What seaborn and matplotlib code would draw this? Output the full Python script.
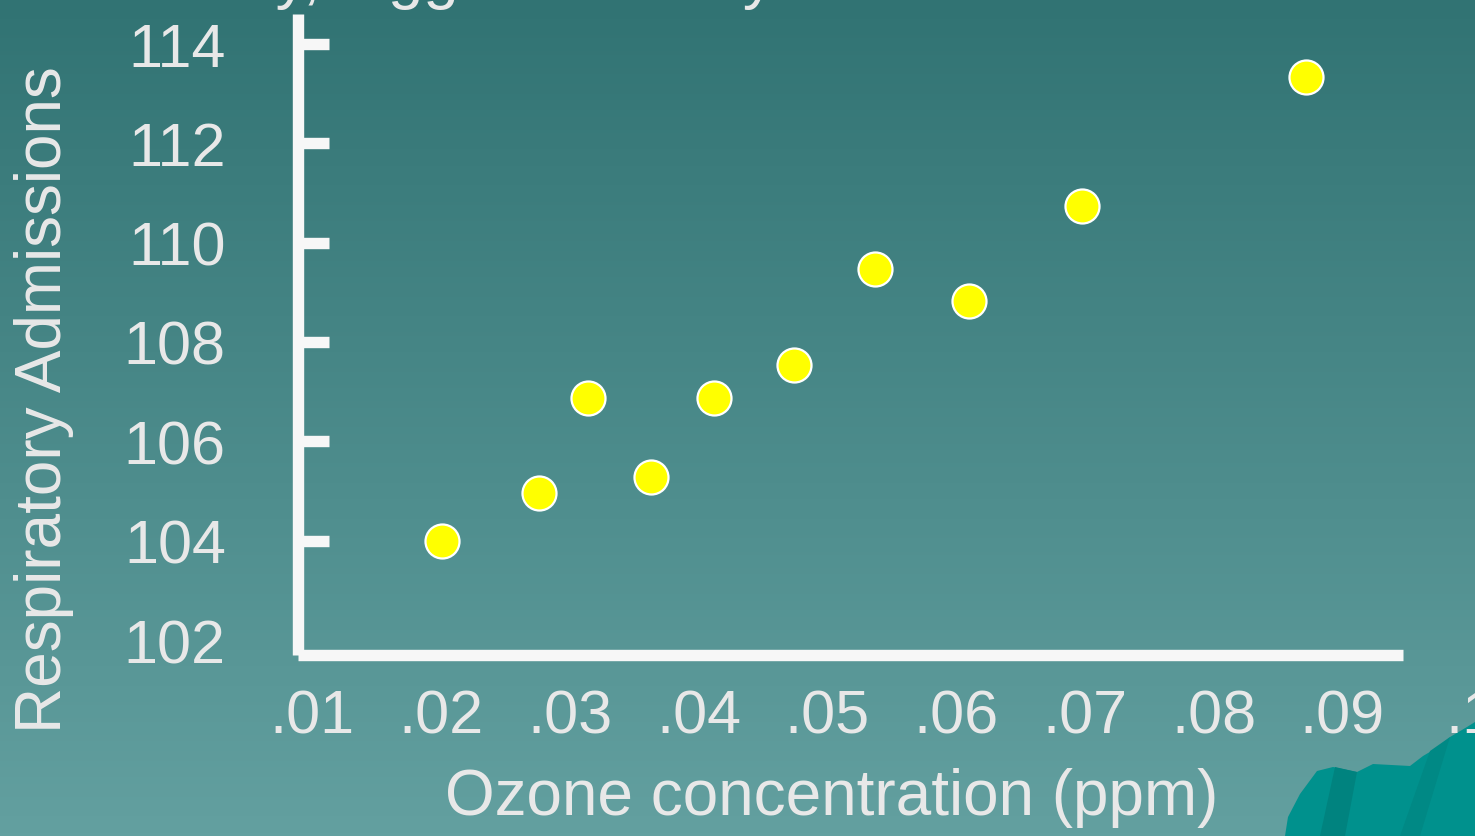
import numpy as np
import matplotlib.pyplot as plt
import seaborn as sns

# ozone (ppm) vs respiratory admissions
ozone = [0.0201, 0.0276, 0.0314, 0.0363, 0.0412, 0.0474, 0.0537, 0.0610, 0.0698, 0.0872]
admissions = [104.0, 104.97, 106.88, 105.29, 106.88, 107.54, 109.47, 108.83, 110.74, 113.34]

xticks = [0.01, 0.02, 0.03, 0.04, 0.05, 0.06, 0.07, 0.08, 0.09, 0.10]
xticklabels = ['.01', '.02', '.03', '.04', '.05', '.06', '.07', '.08', '.09', '.1']
yticks = [102, 104, 106, 108, 110, 112, 114]

sns.set_theme(style='ticks')
plt.rcParams['font.family'] = ['Liberation Sans', 'DejaVu Sans']

W, H = 1475, 837
fig = plt.figure(figsize=(W / 100, H / 100), dpi=100)

# slide background: vertical teal gradient
bg = fig.add_axes([0, 0, 1, 1], zorder=-10)
top = np.array([49, 115, 115]) / 255
bot = np.array([99, 160, 160]) / 255
t = np.linspace(0, 1, 256)[:, None]
grad = (top[None, :] * (1 - t) + bot[None, :] * t)[:, None, :]
bg.imshow(grad, aspect='auto', extent=[0, 1, 0, 1])
# teal decoration in the lower right corner
deco = np.array([(1285, 837), (1288, 818), (1300, 795), (1317, 772), (1333, 768), (1357, 773),
                 (1373, 765), (1410, 767), (1423, 757), (1440, 747), (1450, 738), (1467, 728),
                 (1475, 723), (1475, 837)], dtype=float)
bg.fill(deco[:, 0] / W, 1 - deco[:, 1] / H, color='#00918d', lw=0)
facet = np.array([(1320, 837), (1335, 768), (1357, 773), (1345, 837)], dtype=float)
bg.fill(facet[:, 0] / W, 1 - facet[:, 1] / H, color='#00837f', lw=0)
facet2 = np.array([(1400, 837), (1430, 752), (1450, 738), (1420, 837)], dtype=float)
bg.fill(facet2[:, 0] / W, 1 - facet2[:, 1] / H, color='#008985', lw=0)
bg.set_xlim(0, 1)
bg.set_ylim(0, 1)
bg.axis('off')

ax = fig.add_axes([298 / W, 1 - 656 / H, (1471 - 298) / W, (656 - 15) / H])
ax.set_facecolor('none')

sns.scatterplot(x=ozone, y=admissions, ax=ax, s=600, color='#ffff00',
                edgecolor='white', linewidth=1.6, zorder=3)

ax.set_xlim(0.0089, 0.10)
ax.set_ylim(101.7, 114.6)

line_c = '#f7f7f7'
text_c = '#e8e8e8'
for side in ['top', 'right']:
    ax.spines[side].set_visible(False)
for side in ['left', 'bottom']:
    ax.spines[side].set_color(line_c)
    ax.spines[side].set_linewidth(8.2)
    ax.spines[side].set_capstyle('butt')
ax.spines['bottom'].set_bounds(0.0089, 0.0947)

ax.set_xticks(xticks)
ax.set_xticklabels(xticklabels)
ax.set_yticks(yticks)
ax.tick_params(axis='x', length=0, pad=24, labelsize=44, labelcolor=text_c)
ax.tick_params(axis='y', direction='in', length=22, width=8.2, color=line_c,
               pad=52, labelsize=44, labelcolor=text_c)
ax.yaxis.get_major_ticks()[0].tick1line.set_visible(False)

ax.set_xlabel('Ozone concentration (ppm)', fontsize=46, color=text_c)
ax.xaxis.set_label_coords((832 - 298) / (1471 - 298), -(768 - 656) / (656 - 15))
ax.set_ylabel('Respiratory Admissions', fontsize=46, color=text_c)
ax.yaxis.set_label_coords(-(298 - 74) / (1471 - 298), (656 - 400) / (656 - 15))

# slide title, cut off by the top edge
fig.text(775 / W, 1 + 3 / H, 'Admissions vs. ozone, measured daily, lagged one day',
         ha='right', va='baseline', fontsize=46, color=text_c)

fig.savefig('out.png', dpi=100)
